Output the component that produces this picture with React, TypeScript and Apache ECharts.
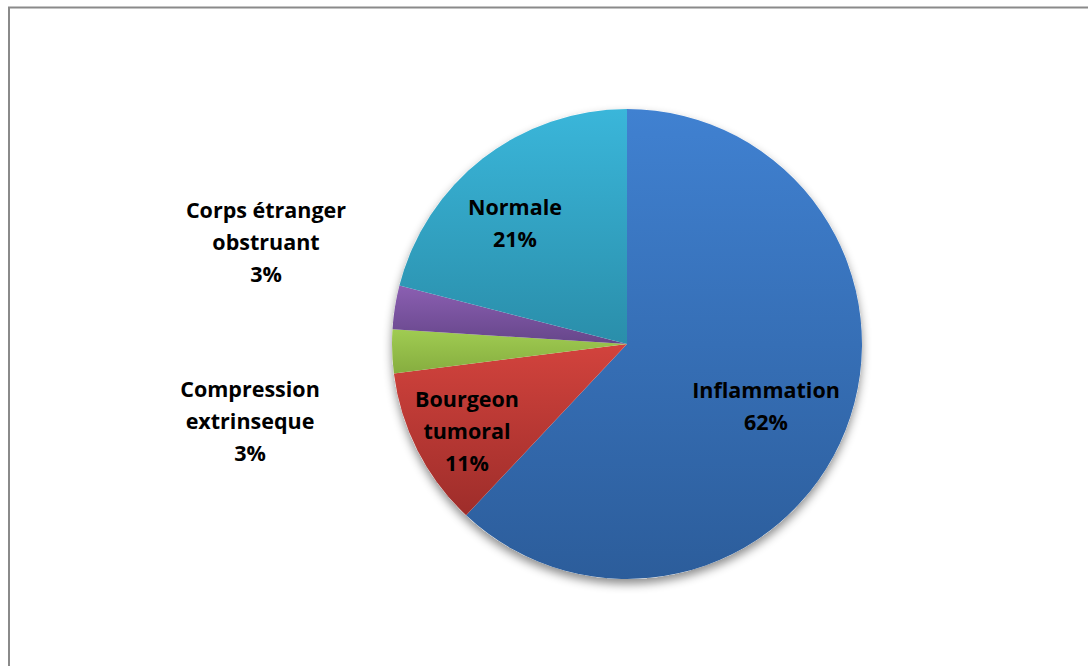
import React, { useEffect, useRef } from "react";
import * as echarts from "echarts";

// Category names (with the line breaks used in the labels) and shares in percent
const categories = [
  "Inflammation",
  "Bourgeon\ntumoral",
  "Compression\nextrinseque",
  "Corps étranger\nobstruant",
  "Normale",
];
const shares = [62, 11, 3, 3, 21];

// Slice fills: light top colour and darker bottom colour of each vertical gradient
const topColors = ["#4081d1", "#d2433d", "#a0cc52", "#8b5fb2", "#3ab6da"];
const bottomColors = ["#2c5d9b", "#9e2d2a", "#86ad3f", "#66468a", "#2a8eaa"];

// Label anchors as offsets from the pie centre (px)
const labelOffsets: [number, number][] = [
  [139, 61],
  [-160, 86],
  [-377, 76],
  [-361, -103],
  [-112, -122],
];

const CX = 627;
const CY = 344;
const R = 235;

export default function App() {
  const ref = useRef<HTMLDivElement>(null);

  useEffect(() => {
    if (!ref.current) return;
    const chart = echarts.init(ref.current, undefined, { renderer: "svg" });

    const data = categories.map((name, i) => ({
      name,
      value: shares[i],
      itemStyle: {
        color: new echarts.graphic.LinearGradient(0, 0, 0, 1, [
          { offset: 0, color: topColors[i] },
          { offset: 1, color: bottomColors[i] },
        ]),
      },
    }));

    chart.setOption({
      animation: false,
      backgroundColor: "#ffffff",
      graphic: [
        {
          type: "rect",
          shape: { x: 9, y: 7.5, width: 1200, height: 800 },
          style: { fill: "none", stroke: "#8a8a8a", lineWidth: 2 },
          z: 0,
        },
      ],
      series: [
        {
          // backing disc that casts the soft drop shadow under the pie
          type: "pie",
          silent: true,
          center: [CX, CY],
          radius: R,
          startAngle: 90,
          data: [{ value: 1, name: "" }],
          label: { show: false },
          labelLine: { show: false },
          itemStyle: {
            color: "#ffffff",
            shadowBlur: 10,
            shadowOffsetY: 5,
            shadowColor: "rgba(0,0,0,0.45)",
          },
          z: 1,
        },
        {
          type: "pie",
          center: [CX, CY],
          radius: R,
          startAngle: 90,
          clockwise: true,
          data,
          z: 2,
          label: {
            show: true,
            position: "inside",
            formatter: (p: any) => `${p.name}\n${p.value}%`,
            fontFamily: "'Open Sans', sans-serif",
            fontWeight: "bold",
            fontSize: 21.5,
            lineHeight: 32,
            color: "#000000",
            align: "center",
            verticalAlign: "middle",
          },
          labelLine: { show: false },
          labelLayout: (p: any) => {
            const off = labelOffsets[p.dataIndex];
            return {
              x: CX + off[0],
              y: CY + off[1],
              align: "center",
              verticalAlign: "middle",
            };
          },
        },
      ],
    });

    return () => chart.dispose();
  }, []);

  return (
    <div
      ref={ref}
      style={{ position: "absolute", left: 0, top: 0, width: 1088, height: 666 }}
    />
  );
}
